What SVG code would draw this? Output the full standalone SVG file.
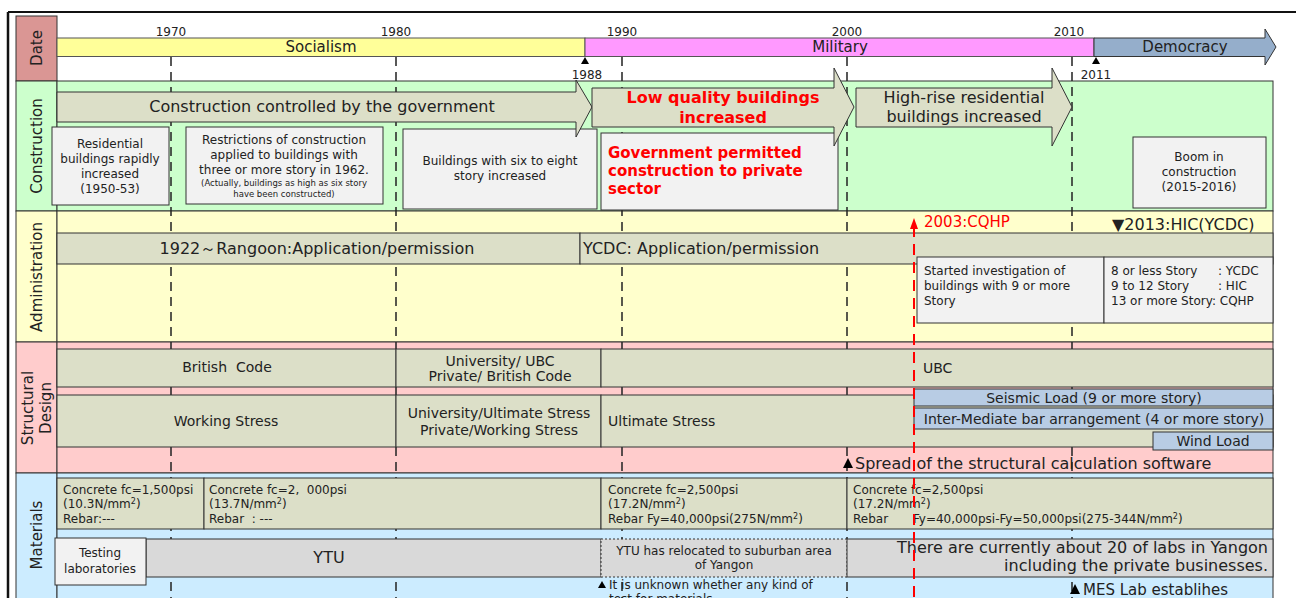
<svg xmlns="http://www.w3.org/2000/svg" width="1296" height="598" viewBox="0 0 1296 598">
<style>
text{font-family:"DejaVu Sans","Liberation Sans",sans-serif;fill:#222}
.lab{font-size:15px;text-anchor:middle}
.yr{font-size:12px;text-anchor:middle}
.bar{fill:#DCDFC8;stroke:#333;stroke-width:1}
.box{fill:#F2F2F2;stroke:#333;stroke-width:1}
.blue{fill:#B8CCE4;stroke:#333;stroke-width:1}
.gray{fill:#D9D9D9;stroke:#333;stroke-width:1}
.vd{stroke:#222;stroke-width:1.5;stroke-dasharray:9,6;fill:none}
.rd{stroke:#FF0000;stroke-width:2;stroke-dasharray:11,7;fill:none}
.t12{font-size:12px}
.t11{font-size:12px}
.t14{font-size:14px}
.t15{font-size:15px}
.t16{font-size:16px}
.c{text-anchor:middle}
.red{fill:#FF0000;font-weight:bold;font-size:16px}
.red15{fill:#FF0000;font-weight:bold;font-size:15px}
</style>
<rect width="1296" height="598" fill="#fff"/>
<g id="frame">
<line x1="8" y1="12" x2="1296" y2="12" stroke="#111" stroke-width="2"/>
<line x1="8" y1="12" x2="8" y2="598" stroke="#111" stroke-width="2.5"/>
</g>
<g id="labels">
<rect x="16" y="16" width="41" height="65" fill="#DA9694" stroke="#333"/>
<rect x="16" y="81" width="41" height="130" fill="#CCFFCC" stroke="#333"/>
<rect x="16" y="211" width="41" height="131" fill="#FFFFCC" stroke="#333"/>
<rect x="16" y="342" width="41" height="131" fill="#FFCCCC" stroke="#333"/>
<rect x="16" y="473" width="41" height="130" fill="#CCECFF" stroke="#333"/>
<text class="lab" transform="translate(42,48) rotate(-90)">Date</text>
<text class="lab" transform="translate(42,146) rotate(-90)">Construction</text>
<text class="lab" transform="translate(42,277) rotate(-90)">Administration</text>
<text class="lab" transform="translate(33,408) rotate(-90)">Structural</text>
<text class="lab" transform="translate(51,408) rotate(-90)">Design</text>
<text class="lab" transform="translate(42,535) rotate(-90)">Materials</text>
</g>
<g id="backgrounds">
<rect x="57" y="81" width="1216" height="130" fill="#CCFFCC" stroke="#333"/>
<rect x="57" y="211" width="1216" height="131" fill="#FFFFCC" stroke="#333"/>
<rect x="57" y="342" width="1216" height="131" fill="#FFCCCC" stroke="#333"/>
<rect x="57" y="473" width="1216" height="130" fill="#CCECFF" stroke="#333"/>
</g>
<g id="gridlines">
<line class="vd" x1="171" y1="57" x2="171" y2="598"/>
<line class="vd" x1="396" y1="57" x2="396" y2="598" stroke-dasharray="30,6,9,6"/>
<line class="vd" x1="622" y1="57" x2="622" y2="598"/>
<line class="vd" x1="847" y1="57" x2="847" y2="598"/>
<line class="vd" x1="1072" y1="57" x2="1072" y2="598"/>
</g>
<g id="date">
<text class="yr" x="171" y="36">1970</text>
<text class="yr" x="396" y="36">1980</text>
<text class="yr" x="622" y="36">1990</text>
<text class="yr" x="847" y="36">2000</text>
<text class="yr" x="1069" y="36">2010</text>
<rect x="57" y="38" width="528" height="18.5" fill="#FFFF99" stroke="#555"/>
<rect x="585" y="38" width="509" height="18.5" fill="#FF99FF" stroke="#555"/>
<polygon points="1094,38 1265,38 1265,29 1276,47 1265,65 1265,56.5 1094,56.5" fill="#95AECB" stroke="#333"/>
<text class="t15 c" x="321" y="52">Socialism</text>
<text class="t15 c" x="840" y="52">Military</text>
<text class="t15 c" x="1185" y="52">Democracy</text>
<polygon points="585,57 589,64 581,64" fill="#000"/>
<text class="yr" x="587" y="79">1988</text>
<polygon points="1096,57 1100,64 1092,64" fill="#000"/>
<text class="yr" x="1096" y="79">2011</text>
</g>
<g id="construction">
<g id="c-box1"><rect class="box" x="52" y="127" width="117" height="78"/>
<text class="t12 c" x="110" y="148">Residential</text>
<text class="t12 c" x="110" y="163">buildings rapidly</text>
<text class="t12 c" x="110" y="178">increased</text>
<text class="t12 c" x="110" y="193">(1950-53)</text></g>
<g id="c-box2"><rect class="box" x="186" y="127" width="197" height="77"/>
<text class="t12 c" x="284" y="144">Restrictions of construction</text>
<text class="t12 c" x="284" y="159">applied to buildings with</text>
<text class="t12 c" x="284" y="174">three or more story in 1962.</text>
<text class="c" x="284" y="186" font-size="8.5">(Actually, buildings as high as six story</text>
<text class="c" x="284" y="197" font-size="8.5">have been constructed)</text></g>
<g id="c-box3"><rect class="box" x="403" y="129" width="194" height="80"/>
<text class="t12 c" x="500" y="165">Buildings with six to eight</text>
<text class="t12 c" x="500" y="180">story increased</text></g>
<g id="c-box4"><rect class="box" x="601" y="133" width="237" height="77"/>
<text class="red15" x="608" y="158">Government permitted</text>
<text class="red15" x="608" y="176">construction to private</text>
<text class="red15" x="608" y="194">sector</text></g>
<g id="c-box5"><rect class="box" x="1133" y="137" width="133" height="71"/>
<text class="t12 c" x="1199" y="161">Boom in</text>
<text class="t12 c" x="1199" y="176">construction</text>
<text class="t12 c" x="1199" y="191">(2015-2016)</text></g>
<g id="c-arrow1"><polygon class="bar" points="57,92 576,92 576,80 592,107 576,137 576,122 57,122"/>
<text class="c" x="322" y="112" font-size="16">Construction controlled by the government</text></g>
<g id="c-arrow2"><polygon class="bar" points="592,88 834,88 834,68 854,107 834,146 834,127 592,127"/>
<text class="red c" x="723" y="103">Low quality buildings</text>
<text class="red c" x="723" y="123">increased</text></g>
<g id="c-arrow3"><polygon class="bar" points="856,88 1052,88 1052,68 1072,107 1052,146 1052,127 856,127"/>
<text class="t16 c" x="964" y="103">High-rise residential</text>
<text class="t16 c" x="964" y="122">buildings increased</text></g>
</g>
<g id="administration">
<g id="a-bar1"><rect class="bar" x="57" y="233" width="523" height="31"/>
<text class="t16 c" x="317" y="254">1922～Rangoon:Application/permission</text></g>
<g id="a-bar2"><rect class="bar" x="580" y="233" width="693" height="31"/>
<text class="t16" x="583" y="254">YCDC: Application/permission</text></g>
<g id="a-box1"><rect class="box" x="917" y="257" width="187" height="66"/>
<text class="t12" x="924" y="275">Started investigation of</text>
<text class="t12" x="924" y="290">buildings with 9 or more</text>
<text class="t12" x="924" y="305">Story</text></g>
<g id="a-box2"><rect class="box" x="1104" y="257" width="169" height="66"/>
<text class="t12" x="1111" y="275">8 or less Story<tspan x="1218">: YCDC</tspan></text>
<text class="t12" x="1111" y="290">9 to 12 Story<tspan x="1218">: HIC</tspan></text>
<text class="t12" x="1111" y="305">13 or more Story: CQHP</text></g>
<g id="a-2013"><text class="t16" x="1112" y="230">▼2013:HIC(YCDC)</text></g>
</g>
<g id="structural">
<g id="s-bc"><rect class="bar" x="57" y="349" width="339" height="38"/>
<text class="t14 c" x="227" y="372" xml:space="preserve">British  Code</text></g>
<g id="s-uni"><rect class="bar" x="396" y="349" width="205" height="38"/>
<text class="t14 c" x="500" y="366">University/ UBC</text>
<text class="t14 c" x="500" y="381">Private/ British Code</text></g>
<g id="s-ubc"><rect class="bar" x="601" y="349" width="672" height="38"/>
<text class="t14" x="923" y="373">UBC</text></g>
<g id="s-ws"><rect class="bar" x="57" y="395" width="339" height="52"/>
<text class="t14 c" x="226" y="426">Working Stress</text></g>
<g id="s-uws"><rect class="bar" x="396" y="395" width="205" height="52"/>
<text class="t14 c" x="499" y="418">University/Ultimate Stress</text>
<text class="t14 c" x="499" y="435">Private/Working Stress</text></g>
<g id="s-us"><rect class="bar" x="601" y="395" width="672" height="52"/>
<text class="t14" x="608" y="426">Ultimate Stress</text></g>
<g id="s-seis"><rect class="blue" x="914" y="389" width="359" height="17"/>
<text class="t14 c" x="1094" y="403">Seismic Load (9 or more story)</text></g>
<g id="s-inter"><rect class="blue" x="914" y="408" width="359" height="21"/>
<text class="t14 c" x="1094" y="424">Inter-Mediate bar arrangement (4 or more story)</text></g>
<g id="s-wind"><rect class="blue" x="1153" y="432" width="120" height="18"/>
<text class="t14 c" x="1213" y="446">Wind Load</text></g>
<g id="s-spread"><polygon points="848,458 853,468 843,468" fill="#000"/>
<text class="t16" x="855" y="469">Spread of the structural calculation software</text></g>
</g>
<g id="materials">
<g id="m-1"><rect class="bar" x="57" y="478" width="147" height="51"/>
<text class="t11" x="63" y="494">Concrete fc=1,500psi</text>
<text class="t11" x="63" y="508">(10.3N/mm<tspan font-size="8" dy="-4">2</tspan><tspan dy="4">)</tspan></text>
<text class="t11" x="63" y="523">Rebar:---</text></g>
<g id="m-2"><rect class="bar" x="204" y="478" width="397" height="51"/>
<text class="t11" x="209" y="494" xml:space="preserve">Concrete fc=2,  000psi</text>
<text class="t11" x="209" y="508">(13.7N/mm<tspan font-size="8" dy="-4">2</tspan><tspan dy="4">)</tspan></text>
<text class="t11" x="209" y="523" xml:space="preserve">Rebar  : ---</text></g>
<g id="m-3"><rect class="bar" x="601" y="478" width="246" height="51"/>
<text class="t11" x="608" y="494">Concrete fc=2,500psi</text>
<text class="t11" x="608" y="508">(17.2N/mm<tspan font-size="8" dy="-4">2</tspan><tspan dy="4">)</tspan></text>
<text class="t11" x="608" y="523">Rebar Fy=40,000psi(275N/mm<tspan font-size="8" dy="-4">2</tspan><tspan dy="4">)</tspan></text></g>
<g id="m-4"><rect class="bar" x="847" y="478" width="426" height="51"/>
<text class="t11" x="853" y="494">Concrete fc=2,500psi</text>
<text class="t11" x="853" y="508">(17.2N/mm<tspan font-size="8" dy="-4">2</tspan><tspan dy="4">)</tspan></text>
<text class="t11" x="853" y="523">Rebar<tspan x="913">Fy=40,000psi-Fy=50,000psi(275-344N/mm</tspan><tspan font-size="8" dy="-4">2</tspan><tspan dy="4">)</tspan></text></g>
<g id="m-ytu"><rect class="gray" x="146" y="539" width="455" height="38"/>
<text class="t16 c" x="329" y="563">YTU</text></g>
<g id="m-reloc"><rect class="gray" x="601" y="539" width="246" height="38" stroke-dasharray="2,2"/>
<text class="t12 c" x="724" y="555">YTU has relocated to suburban area</text>
<text class="t12 c" x="724" y="569">of Yangon</text></g>
<g id="m-labs"><rect class="gray" x="847" y="539" width="426" height="38"/>
<text class="t16" x="1268" y="553" text-anchor="end">There are currently about 20 of labs in Yangon</text>
<text class="t16" x="1268" y="571" text-anchor="end">including the private businesses.</text></g>
<g id="m-test"><rect class="box" x="55" y="538" width="91" height="47"/>
<text class="t12 c" x="100" y="557">Testing</text>
<text class="t12 c" x="100" y="573">laboratories</text></g>
<g id="m-unknown"><polygon points="602,581 606,588 598,588" fill="#000"/>
<text class="t12" x="609" y="589">It is unknown whether any kind of</text>
<text class="t12" x="609" y="603">test for materials</text></g>
<g id="m-mes"><polygon points="1075,584 1080,594 1070,594" fill="#000"/>
<text class="t15" x="1083" y="595">MES Lab establihes</text></g>
</g>
<g id="cqhp">
<line class="rd" x1="914" y1="226" x2="914" y2="598"/>
<polygon points="914,218 918,229 910,229" fill="#FF0000"/>
<text class="t15" x="924" y="227" style="fill:#FF0000">2003:CQHP</text>
</g>
</svg>
